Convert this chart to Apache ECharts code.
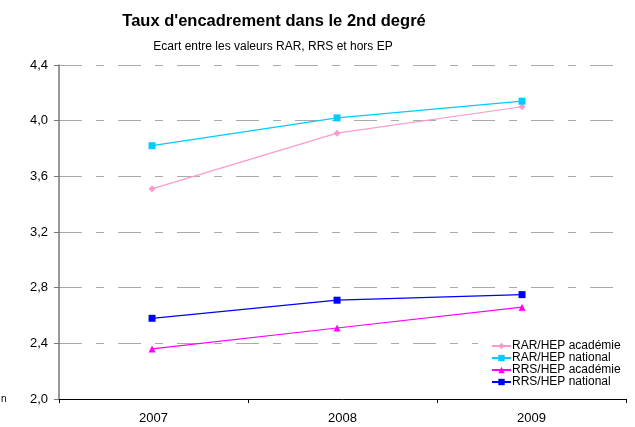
<!DOCTYPE html>
<html><head><meta charset="utf-8">
<script src="https://cdn.jsdelivr.net/npm/echarts@6/dist/echarts.min.js"></script>
<style>html,body{margin:0;padding:0;background:#fff}#c{width:635px;height:427px}</style>
</head><body><div id="c"></div>
<script>
var categories = ['2007', '2008', '2009'];
var years = [2007, 2008, 2009];
var rarAcad = [3.51, 3.91, 4.10];
var rarNat = [3.82, 4.02, 4.14];
var rrsAcad = [2.36, 2.51, 2.66];
var rrsNat = [2.58, 2.71, 2.75];
var seriesNames = ['RAR/HEP académie', 'RAR/HEP national', 'RRS/HEP académie', 'RRS/HEP national'];

function pairs(vals){ return vals.map(function(v,i){ return [years[i], v]; }); }

var chart = echarts.init(document.getElementById('c'), null, {renderer:'canvas'});
var font = '"Liberation Sans", Arial, sans-serif';
function mk(name, vals, color, symbol, size){
  return {
    name: name, type: 'line', xAxisIndex: 1, data: pairs(vals),
    symbol: symbol, symbolSize: size,
    lineStyle: {color: color, width: 1.2},
    itemStyle: {color: color},
    emphasis: {disabled: true}
  };
}
chart.setOption({
  animation: false,
  textStyle: {fontFamily: font},
  title: [
    {text: "Taux d'encadrement dans le 2nd degré", left: 269, top: 8, textAlign: 'center',
     textStyle: {fontSize: 16.5, fontWeight: 'bold', color: '#000', fontFamily: font}},
    {text: 'Ecart entre les valeurs RAR, RRS et hors EP', left: 268, top: 36, textAlign: 'center',
     textStyle: {fontSize: 12, fontWeight: 'normal', color: '#000', fontFamily: font}}
  ],
  legend: {
    orient: 'vertical', left: 478, top: 335, padding: [5, 3, 3, 13],
    backgroundColor: '#fff',
    itemWidth: 19, itemHeight: 8, itemGap: 0,
    textStyle: {fontSize: 12, lineHeight: 12, height: 12, color: '#000', fontFamily: font, padding: [0,0,0,-4]},
    data: seriesNames
  },
  grid: {left: 59, right: 9, top: 65, bottom: 28, containLabel: false},
  xAxis: [
    {type: 'category', data: categories, boundaryGap: true,
     axisLine: {lineStyle: {color: '#000', width: 1}},
     axisTick: {show: true, length: 4, lineStyle: {color: '#000'}},
     axisLabel: {fontSize: 13, color: '#000', margin: 13, fontFamily: font},
     splitLine: {show: false}},
    {type: 'value', min: 2006.497, max: 2009.562, show: false}
  ],
  yAxis: {
    type: 'value', min: 2.0, max: 4.4, interval: 0.4,
    axisLine: {show: true, lineStyle: {color: '#777', width: 1.5}},
    axisTick: {show: true, length: 5, lineStyle: {color: '#777'}},
    axisLabel: {fontSize: 13, color: '#000', margin: 11, fontFamily: font,
      formatter: function(v){ return v.toFixed(1).replace('.', ','); }},
    splitLine: {show: true, lineStyle: {color: '#aaa', width: 1, type: [23, 14, 8, 14]}}
  },
  graphic: [{type: 'text', left: 1, top: 394, style: {text: 'n', fontSize: 10, fill: '#000', font: '10px "Liberation Sans"'}}],
  series: [
    mk(seriesNames[0], rarAcad, '#FF99CC', 'diamond', 7),
    mk(seriesNames[1], rarNat, '#00CCFF', 'rect', 7),
    mk(seriesNames[2], rrsAcad, '#FF00FF', 'triangle', 7),
    mk(seriesNames[3], rrsNat, '#0000FF', 'rect', 7)
  ]
});
</script></body></html>
